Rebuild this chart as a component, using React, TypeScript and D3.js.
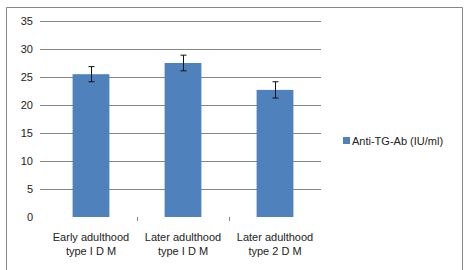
import React from "react";
import * as d3 from "d3";

const categories = [
  ["Early adulthood", "type I D M"],
  ["Later adulthood", "type I D M"],
  ["Later adulthood", "type 2 D M"],
];
const values = [25.5, 27.5, 22.7];
const errors = [1.35, 1.4, 1.45];
const yTicks = [0, 5, 10, 15, 20, 25, 30, 35];
const seriesName = "Anti-TG-Ab (IU/ml)";

const W = 467;
const H = 270;
const font = "'Liberation Sans', Arial, sans-serif";
const barColor = "#4f81bd";

export default function App() {
  const keys = categories.map((c, i) => String(i));
  const x = d3.scaleBand().domain(keys).range([45, 321]).padding(0);
  const y = d3.scaleLinear().domain([0, 35]).range([217, 21]);
  const bw = x.bandwidth() * 0.4;

  return (
    <svg
      width={W}
      height={H}
      style={{ position: "absolute", left: 0, top: 0, background: "#fff" }}
    >
      {/* chart frame, bottom edge is cut off */}
      <path d={`M6.5,${H} V7.5 H462.5 V${H}`} fill="none" stroke="#868686" strokeWidth={1} />

      {/* gridlines + y labels */}
      {yTicks.map((t) => (
        <g key={t}>
          {t > 0 && (
            <line x1={40} x2={321} y1={Math.round(y(t)) + 0.5} y2={Math.round(y(t)) + 0.5} stroke="#868686" />
          )}
          <text
            x={33}
            y={y(t)}
            dy="0.35em"
            textAnchor="end"
            fontFamily={font}
            fontSize={11}
            fill="#222"
          >
            {t}
          </text>
        </g>
      ))}

      {/* category boundary ticks */}
      {keys.slice(1).map((k) => (
        <line key={k} x1={x(k)! + 0.5} x2={x(k)! + 0.5} y1={217} y2={221} stroke="#868686" />
      ))}

      {/* bars */}
      {keys.map((k, i) => (
        <rect
          key={k}
          x={x(k)! + (x.bandwidth() - bw) / 2}
          y={y(values[i])}
          width={bw}
          height={y(0) - y(values[i])}
          fill={barColor}
        />
      ))}

      {/* error bars */}
      {keys.map((k, i) => {
        const cx = Math.round(x(k)! + x.bandwidth() / 2) + 0.5;
        const top = y(values[i] + errors[i]);
        const bot = y(values[i] - errors[i]);
        return (
          <g key={k} stroke="#111" strokeWidth={1}>
            <line x1={cx} x2={cx} y1={top} y2={bot} />
            <line x1={cx - 3} x2={cx + 3} y1={top} y2={top} />
            <line x1={cx - 3} x2={cx + 3} y1={bot} y2={bot} />
          </g>
        );
      })}

      {/* category labels */}
      {keys.map((k, i) => (
        <text
          key={k}
          x={x(k)! + x.bandwidth() / 2}
          y={241}
          textAnchor="middle"
          fontFamily={font}
          fontSize={11}
          fill="#222"
        >
          <tspan x={x(k)! + x.bandwidth() / 2}>{categories[i][0]}</tspan>
          <tspan x={x(k)! + x.bandwidth() / 2} dy={14}>
            {categories[i][1]}
          </tspan>
        </text>
      ))}

      {/* legend */}
      <rect x={343} y={137} width={7} height={7} fill={barColor} />
      <text x={352} y={144.5} fontFamily={font} fontSize={11} fill="#222">
        {seriesName}
      </text>
    </svg>
  );
}
